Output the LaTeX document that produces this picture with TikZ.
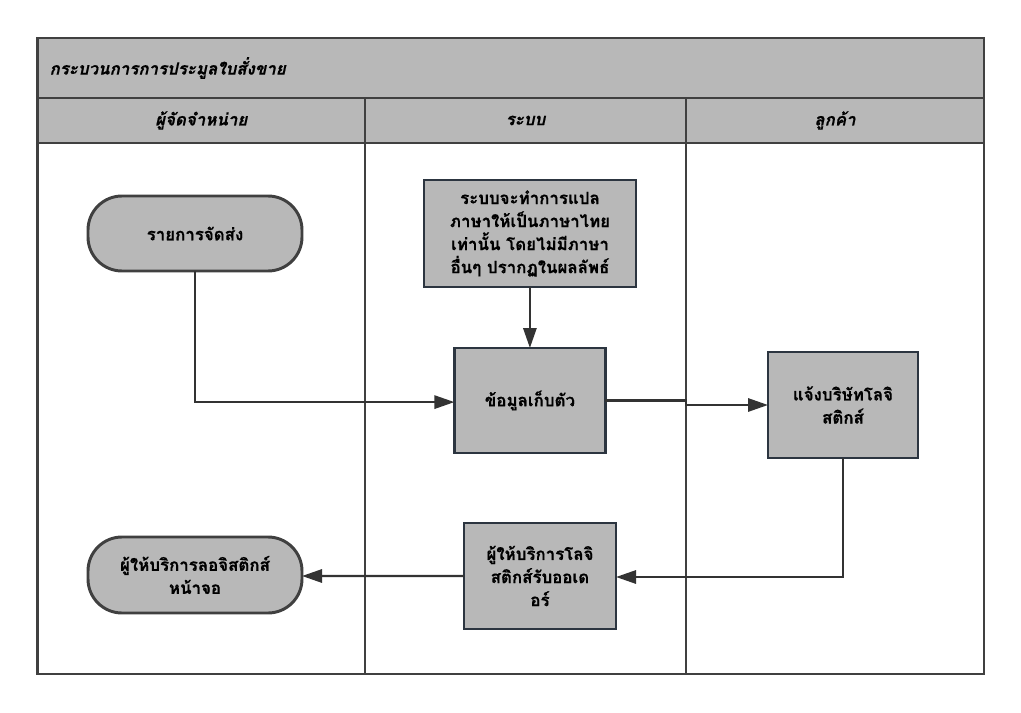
\documentclass[tikz,border=0pt]{standalone}
\usepackage{fontspec}
\usepackage{tikz}
\usetikzlibrary{positioning}
\usetikzlibrary{arrows.meta}
\newfontfamily\thaifont[Script=Thai,BoldFeatures={FakeBold=0.5},BoldItalicFeatures={FakeBold=0.5}]{Loma}
\definecolor{lanegray}{HTML}{B8B8B8}
\definecolor{lanedark}{HTML}{404040}
\definecolor{boxdark}{HTML}{2C3540}
\definecolor{flowdark}{HTML}{333333}
\tikzset{
  lane/.style={rectangle, draw=lanedark, line width=2.1pt, fill=lanegray, anchor=south west, inner sep=0pt, outer sep=0pt, font=\thaifont\bfseries\itshape\fontsize{12}{14}\selectfont},
  stepbox/.style={rectangle, draw=boxdark, line width=2.1pt, fill=lanegray, anchor=south west, inner sep=0pt, outer sep=0pt, align=center, text=black, font=\thaifont\bfseries\fontsize{12}{16.4}\selectfont},
  endbox/.style={stepbox, draw=lanedark, rounded corners=0.85cm},
  flow/.style={draw=flowdark, line width=1.7pt, -{Triangle[length=0.5cm, width=0.33cm]}}
}
\begin{document}
\begin{tikzpicture}

\useasboundingbox (0,0) rectangle (25.525,17.8);
\fill[white] (0,0) rectangle (25.525,17.8);

\node at (0.94,0.95) [rectangle, draw=lanedark, line width=2.1pt, minimum width=23.66cm, minimum height=15.9cm, anchor=south west, inner sep=0pt, outer sep=0pt] (frame) {};
\node at (0.94,15.35) [lane, minimum width=23.66cm, minimum height=1.5cm, text width=23.06cm, align=left] (title) {กระบวนการการประมูลใบสั่งขาย};
\node at (0.94,14.225) [lane, minimum width=8.185cm, minimum height=1.125cm] (supplier) {ผู้จัดจำหน่าย};
\node at (9.125,14.225) [lane, minimum width=8.025cm, minimum height=1.125cm] (system) {ระบบ};
\node at (17.15,14.225) [lane, minimum width=7.45cm, minimum height=1.125cm] (customer) {ลูกค้า};

\draw[draw=lanedark, line width=2.1pt] (supplier.south east) -- (supplier.south east |- frame.south);
\draw[draw=lanedark, line width=2.1pt] (system.south east) -- (system.south east |- frame.south);

\node at (2.2,11.025) [endbox, minimum width=5.35cm, minimum height=1.875cm] (shipping) {รายการจัดส่ง};
\node at (10.6,10.625) [stepbox, minimum width=5.3cm, minimum height=2.675cm] (rule) {ระบบจะทำการแปล\\ภาษาให้เป็นภาษาไทย\\เท่านั้น โดยไม่มีภาษา\\อื่นๆ ปรากฏในผลลัพธ์};
\node at (11.36,6.475) [stepbox, minimum width=3.775cm, minimum height=2.625cm] (pickup) {ข้อมูลเก็บตัว};
\node at (19.2,6.35) [stepbox, minimum width=3.75cm, minimum height=2.65cm] (notify) {แจ้งบริษัทโลจิ\\สติกส์};
\node at (11.6,2.075) [stepbox, minimum width=3.8cm, minimum height=2.65cm] (provider) {ผู้ให้บริการโลจิ\\สติกส์รับออเด\\อร์};
\node at (2.2,2.475) [endbox, minimum width=5.35cm, minimum height=1.9cm] (screen) {ผู้ให้บริการลอจิสติกส์\\หน้าจอ};

\draw[flow] (shipping.south) |- ([yshift=-0.04cm]pickup.west);
\draw[flow] (rule.south -| pickup.north) -- (pickup.north);
\draw[flow] (pickup.east) -- (pickup.east -| system.south east) -- (notify.west -| system.south east) -- (notify.west);
\draw[flow] (notify.south) |- ([yshift=-0.025cm]provider.east);
\draw[flow] (provider.west) -- ([yshift=-0.025cm]screen.east);

\end{tikzpicture}
\end{document}
